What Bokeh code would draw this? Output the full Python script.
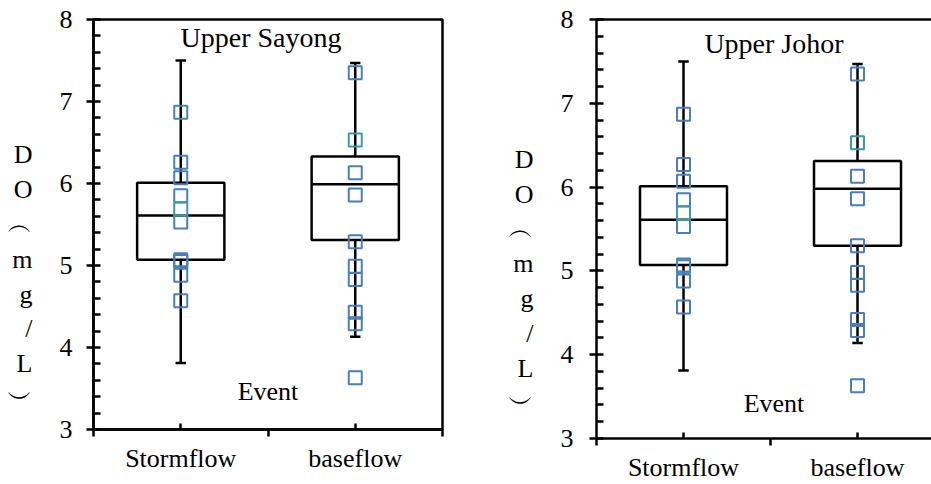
from bokeh.plotting import figure
from bokeh.models import Range1d, FixedTicker, Label, LinearAxis, ColumnDataSource
from bokeh.layouts import row
from bokeh.embed import file_html
from bokeh.resources import INLINE

# ---------------- data ----------------
categories = ["Stormflow", "baseflow"]
y_ticks = [3, 4, 5, 6, 7, 8]
y_minor = [3.2, 3.4, 3.6, 3.8, 4.2, 4.4, 4.6, 4.8, 5.2, 5.4, 5.6, 5.8,
           6.2, 6.4, 6.6, 6.8, 7.2, 7.4, 7.6, 7.8]
ylabel_chars = ["D", "O", "\ufe35", "m", "g", "/", "L", "\ufe36"]

# Upper Sayong
sayong_storm = [6.87, 6.26, 6.07, 5.85, 5.53, 5.07, 5.05, 4.88, 4.57]
sayong_storm_teal = [5.69]
sayong_base = [7.35, 6.13, 5.86, 5.29, 4.99, 4.83, 4.43, 4.29, 3.63]
sayong_base_teal = [6.53]
sayong_whisker_low = [3.81, 4.13]
sayong_q1 = [5.07, 5.31]
sayong_median = [5.61, 5.99]
sayong_q3 = [6.01, 6.33]
sayong_whisker_high = [7.50, 7.47]

# Upper Johor
johor_storm = [6.87, 6.27, 6.07, 5.85, 5.53, 5.07, 5.05, 4.88, 4.57]
johor_storm_teal = [5.69]
johor_base = [7.35, 6.13, 5.86, 5.30, 4.98, 4.83, 4.42, 4.29, 3.63]
johor_base_teal = [6.53]
johor_whisker_low = [3.81, 4.14]
johor_q1 = [5.07, 5.30]
johor_median = [5.61, 5.98]
johor_q3 = [6.01, 6.31]
johor_whisker_high = [7.50, 7.47]

FONT = "Liberation Serif"
BLUE = "#4a7ebb"
TEAL = "#3a9aa8"


def style_axis(ax):
    ax.axis_line_width = 2.5
    ax.major_tick_line_width = 2.5
    ax.minor_tick_line_width = 2.5
    ax.axis_line_color = "black"
    ax.major_tick_line_color = "black"
    ax.minor_tick_line_color = "black"
    ax.major_label_text_font = FONT
    ax.major_label_text_font_size = "26px"
    ax.major_label_text_color = "black"


def make_panel(title, storm, storm_t, base, base_t, wl, q1, med, q3, wh,
               width, height, b_left, b_right, x_end, outline, xstand, ystand,
               title_xy, event_xy):
    p = figure(width=width, height=height, x_range=Range1d(0, x_end),
               y_range=Range1d(3, 8), output_backend="svg",
               toolbar_location=None, title_location=None,
               min_border_left=b_left, min_border_right=b_right,
               min_border_top=19, min_border_bottom=44)
    p.grid.visible = False
    p.background_fill_color = "white"
    p.border_fill_color = "white"

    ya = p.left[0]
    style_axis(ya)
    ya.ticker = FixedTicker(ticks=y_ticks, minor_ticks=y_minor)
    ya.major_tick_out = 7
    ya.major_tick_in = 7
    ya.minor_tick_in = 7
    ya.minor_tick_out = 0
    ya.major_label_standoff = ystand
    ya.axis_label = "\n".join([" ", " ", " "] + ylabel_chars)
    ya.axis_label_orientation = "horizontal"
    ya.axis_label_text_font = FONT
    ya.axis_label_text_font_size = "26px"
    ya.axis_label_text_font_style = "normal"
    ya.axis_label_text_color = "black"
    ya.axis_label_text_line_height = 1.2
    ya.axis_label_standoff = 24

    xs = [i + 0.5 for i in range(len(categories))]
    xa = p.below[0]
    style_axis(xa)
    xa.axis_label = None
    xa.axis_label_standoff = 0
    xa.ticker = FixedTicker(ticks=xs, minor_ticks=[float(i) for i in range(len(categories) + 1)])
    xa.major_label_overrides = {x: c for x, c in zip(xs, categories)}
    xa.major_tick_in = 6
    xa.major_tick_out = 0
    xa.minor_tick_in = 0
    xa.minor_tick_out = 7
    xa.major_label_standoff = xstand

    if outline:
        p.outline_line_color = "black"
        p.outline_line_width = 2.5
    else:
        p.outline_line_color = None
        top = LinearAxis(ticker=FixedTicker(ticks=[]), major_tick_in=0,
                         major_tick_out=0, minor_tick_in=0, minor_tick_out=0,
                         major_label_text_font_size="0px", major_label_standoff=0,
                         axis_line_width=2.5, axis_line_color="black")
        p.add_layout(top, "above")

    box_half = 0.25
    cap_half = 0.03
    src = ColumnDataSource(dict(x=xs, wl=wl, q1=q1, med=med, q3=q3, wh=wh,
                                left=[x - box_half for x in xs],
                                right=[x + box_half for x in xs],
                                cl=[x - cap_half for x in xs],
                                cr=[x + cap_half for x in xs]))
    kw = dict(source=src, line_color="black", line_width=2.5)
    p.segment(x0="x", y0="q3", x1="x", y1="wh", **kw)
    p.segment(x0="x", y0="wl", x1="x", y1="q1", **kw)
    p.segment(x0="cl", y0="wh", x1="cr", y1="wh", **kw)
    p.segment(x0="cl", y0="wl", x1="cr", y1="wl", **kw)
    p.quad(left="left", right="right", bottom="q1", top="q3", fill_color="white", **kw)
    p.segment(x0="left", y0="med", x1="right", y1="med", **kw)

    px = [xs[0]] * len(storm) + [xs[1]] * len(base)
    p.scatter(px, storm + base, marker="square", size=13, fill_color=None,
              line_color=BLUE, line_width=2)
    tx = [xs[0]] * len(storm_t) + [xs[1]] * len(base_t)
    p.scatter(tx, storm_t + base_t, marker="square", size=13, fill_color=None,
              line_color=TEAL, line_width=2)

    p.add_layout(Label(x=title_xy[0], y=title_xy[1], text=title, text_font=FONT,
                       text_font_size="28px", text_align="center",
                       text_baseline="middle", text_color="black"))
    p.add_layout(Label(x=event_xy[0], y=event_xy[1], text="Event", text_font=FONT,
                       text_font_size="26px", text_align="center",
                       text_baseline="middle", text_color="black"))
    return p


p1 = make_panel("Upper Sayong", sayong_storm, sayong_storm_teal, sayong_base,
                sayong_base_teal, sayong_whisker_low, sayong_q1, sayong_median,
                sayong_q3, sayong_whisker_high,
                width=470, height=475, b_left=93, b_right=28, x_end=2.0,
                outline=True, xstand=7, ystand=14,
                title_xy=(0.96, 7.78), event_xy=(1.0, 3.46))

p2 = make_panel("Upper Johor", johor_storm, johor_storm_teal, johor_base,
                johor_base_teal, johor_whisker_low, johor_q1, johor_median,
                johor_q3, johor_whisker_high,
                width=461, height=484, b_left=126, b_right=0, x_end=335 / 174,
                outline=False, xstand=7, ystand=16,
                title_xy=(1.02, 7.71), event_xy=(1.02, 3.42))

layout = row(p1, p2)
open("out.html", "w").write(file_html(layout, INLINE))
